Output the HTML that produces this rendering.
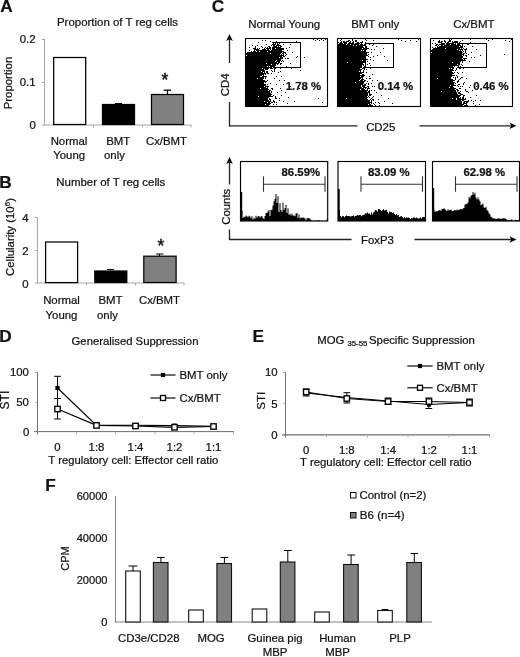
<!DOCTYPE html>
<html><head><meta charset="utf-8"><title>Figure</title>
<style>
html,body{margin:0;padding:0;background:#fff;}
svg{display:block;font-family:'Liberation Sans', sans-serif;fill:#111;}
text{stroke:#111;stroke-width:0.22px;}
</style></head><body>
<svg width="520" height="657" viewBox="0 0 520 657">
<rect x="0" y="0" width="520" height="657" fill="#fff"/>
<text x="0.3" y="12.3" font-size="17.2" text-anchor="start" font-weight="bold" >A</text>
<text x="117.5" y="25.5" font-size="11.45" text-anchor="middle" font-weight="normal" >Proportion of T reg cells</text>
<line x1="44.5" y1="39" x2="44.5" y2="125.5" stroke="#a8a8a8" stroke-width="1"/>
<line x1="42" y1="125" x2="191.5" y2="125" stroke="#a8a8a8" stroke-width="1"/>
<line x1="42" y1="39.5" x2="44.5" y2="39.5" stroke="#a8a8a8" stroke-width="1"/>
<line x1="42" y1="82.5" x2="44.5" y2="82.5" stroke="#a8a8a8" stroke-width="1"/>
<line x1="93.5" y1="125" x2="93.5" y2="127.5" stroke="#a8a8a8" stroke-width="1"/>
<line x1="142.5" y1="125" x2="142.5" y2="127.5" stroke="#a8a8a8" stroke-width="1"/>
<line x1="191" y1="125" x2="191" y2="127.5" stroke="#a8a8a8" stroke-width="1"/>
<text x="35.6" y="42.6" font-size="11.4" text-anchor="end" font-weight="normal" >0.2</text>
<text x="35.6" y="85.6" font-size="11.4" text-anchor="end" font-weight="normal" >0.1</text>
<text x="35.9" y="128.5" font-size="11.4" text-anchor="end" font-weight="normal" >0</text>
<text transform="translate(12 83) rotate(-90)" font-size="11.4" text-anchor="middle">Proportion</text>
<rect x="53.7" y="57.5" width="32" height="67" fill="#fff" stroke="#000" stroke-width="1.25"/>
<rect x="102.5" y="104.5" width="32" height="20" fill="#000" stroke="#000" stroke-width="1.25"/>
<line x1="118.5" y1="103.5" x2="118.5" y2="104.5" stroke="#000" stroke-width="1"/>
<line x1="115" y1="103.5" x2="122" y2="103.5" stroke="#000" stroke-width="1"/>
<rect x="151.5" y="94.5" width="32" height="30" fill="#808080" stroke="#000" stroke-width="1.25"/>
<line x1="167.5" y1="90.2" x2="167.5" y2="94.5" stroke="#000" stroke-width="1.2"/>
<line x1="163.7" y1="90.2" x2="171" y2="90.2" stroke="#000" stroke-width="1.3"/>
<text x="165" y="86" font-size="17.5" text-anchor="middle" font-weight="normal" style="stroke-width:0.5px">*</text>
<text x="69" y="145" font-size="11.4" text-anchor="middle" font-weight="normal" >Normal</text>
<text x="69.2" y="159" font-size="11.4" text-anchor="middle" font-weight="normal" >Young</text>
<text x="118.2" y="145" font-size="11.4" text-anchor="middle" font-weight="normal" >BMT</text>
<text x="104" y="159" font-size="11.4" text-anchor="start" font-weight="normal" >only</text>
<text x="166.5" y="145" font-size="11.4" text-anchor="middle" font-weight="normal" >Cx/BMT</text>
<text x="-0.8" y="187.9" font-size="17.2" text-anchor="start" font-weight="bold" >B</text>
<text x="110.8" y="186" font-size="11.45" text-anchor="middle" font-weight="normal" >Number of T reg cells</text>
<line x1="37.5" y1="217" x2="37.5" y2="283.5" stroke="#a8a8a8" stroke-width="1"/>
<line x1="35" y1="283" x2="184.5" y2="283" stroke="#a8a8a8" stroke-width="1"/>
<line x1="35" y1="217.5" x2="37.5" y2="217.5" stroke="#a8a8a8" stroke-width="1"/>
<line x1="35" y1="250.5" x2="37.5" y2="250.5" stroke="#a8a8a8" stroke-width="1"/>
<line x1="86.5" y1="283" x2="86.5" y2="285.5" stroke="#a8a8a8" stroke-width="1"/>
<line x1="135.5" y1="283" x2="135.5" y2="285.5" stroke="#a8a8a8" stroke-width="1"/>
<line x1="184" y1="283" x2="184" y2="285.5" stroke="#a8a8a8" stroke-width="1"/>
<text x="28.6" y="221.7" font-size="11.4" text-anchor="end" font-weight="normal" >4</text>
<text x="28.6" y="254.7" font-size="11.4" text-anchor="end" font-weight="normal" >2</text>
<text x="28.6" y="287.5" font-size="11.4" text-anchor="end" font-weight="normal" >0</text>
<text transform="translate(14 237) rotate(-90)" font-size="11.4" text-anchor="middle">Cellularity (10<tspan font-size="8" dy="-4.5">6</tspan><tspan dy="4.5">)</tspan></text>
<rect x="45.6" y="242" width="32" height="40.6" fill="#fff" stroke="#000" stroke-width="1.25"/>
<rect x="94.8" y="271" width="32" height="11.5" fill="#000" stroke="#000" stroke-width="1.25"/>
<line x1="110.5" y1="269.5" x2="110.5" y2="270.5" stroke="#000" stroke-width="1"/>
<line x1="107" y1="269.5" x2="114" y2="269.5" stroke="#000" stroke-width="1"/>
<rect x="143.8" y="256.2" width="32.3" height="26.3" fill="#808080" stroke="#000" stroke-width="1.25"/>
<line x1="159.5" y1="254" x2="159.5" y2="256" stroke="#000" stroke-width="1"/>
<line x1="156" y1="254" x2="163.5" y2="254" stroke="#000" stroke-width="1"/>
<text x="161" y="252.3" font-size="17.5" text-anchor="middle" font-weight="normal" style="stroke-width:0.5px">*</text>
<text x="61.5" y="304" font-size="11.4" text-anchor="middle" font-weight="normal" >Normal</text>
<text x="61.5" y="318.5" font-size="11.4" text-anchor="middle" font-weight="normal" >Young</text>
<text x="110.5" y="304" font-size="11.4" text-anchor="middle" font-weight="normal" >BMT</text>
<text x="97" y="318.5" font-size="11.4" text-anchor="start" font-weight="normal" >only</text>
<text x="159.5" y="304" font-size="11.4" text-anchor="middle" font-weight="normal" >Cx/BMT</text>
<text x="211.8" y="12.4" font-size="17.2" text-anchor="start" font-weight="bold" >C</text>
<text x="284.3" y="28.3" font-size="11.45" text-anchor="middle" font-weight="normal" >Normal Young</text>
<text x="375.2" y="28.3" font-size="11.45" text-anchor="middle" font-weight="normal" >BMT only</text>
<text x="473.8" y="28.3" font-size="11.45" text-anchor="middle" font-weight="normal" >Cx/BMT</text>
<path d="M229.5 34 L226.2 41 L229.5 39.2 L232.8 41 Z" fill="#000"/>
<line x1="229.5" y1="38" x2="229.5" y2="63" stroke="#222" stroke-width="1.3"/>
<text transform="translate(229 84.9) rotate(-90)" font-size="11.4" text-anchor="middle">CD4</text>
<line x1="229.5" y1="102" x2="229.5" y2="126.4" stroke="#222" stroke-width="1.3"/>
<line x1="229" y1="125.8" x2="357.5" y2="125.8" stroke="#222" stroke-width="1.3"/>
<text x="380.7" y="130.6" font-size="11.4" text-anchor="middle" font-weight="normal" >CD25</text>
<line x1="419.5" y1="125.8" x2="512" y2="125.8" stroke="#222" stroke-width="1.3"/>
<path d="M516.5 125.8 L509.5 122.5 L511.3 125.8 L509.5 129.1 Z" fill="#000"/>
<rect x="245" y="38" width="83" height="69" fill="#fff"/>
<path d="M265 38.5h1M313 39.5h1M317 39.5h1M321 39.5h1M325 39.5h1M262 40.5h1M265 40.5h1M315 40.5h1M319 40.5h1M323 40.5h1M270 41.5h1M276 41.5h1M296 41.5h1M258 42.5h1M272 42.5h1M280 42.5h1M275 43.5h1M277 43.5h1M279 43.5h1M266 44.5h1M272 44.5h1M274 44.5h2M277 44.5h2M283 44.5h1M290 44.5h1M252 45.5h1M257 45.5h1M271 45.5h1M273 45.5h2M276 45.5h5M255 46.5h1M261 46.5h1M268 46.5h2M274 46.5h3M278 46.5h1M280 46.5h2M249 47.5h1M255 47.5h1M262 47.5h1M265 47.5h1M267 47.5h1M269 47.5h2M272 47.5h9M289 47.5h1M253 48.5h3M257 48.5h1M259 48.5h1M264 48.5h1M266 48.5h5M272 48.5h3M276 48.5h8M286 48.5h1M254 49.5h5M262 49.5h4M267 49.5h2M270 49.5h1M272 49.5h12M245 50.5h1M249 50.5h1M254 50.5h1M256 50.5h14M271 50.5h11M287 50.5h1M251 51.5h1M253 51.5h3M257 51.5h2M260 51.5h7M268 51.5h16M245 52.5h1M247 52.5h35M283 52.5h3M292 52.5h1M246 53.5h24M271 53.5h10M282 53.5h2M285 53.5h1M245 54.5h35M281 54.5h1M283 54.5h1M286 54.5h1M245 55.5h1M247 55.5h37M285 55.5h1M245 56.5h37M283 56.5h2M297 56.5h1M245 57.5h34M280 57.5h3M296 57.5h1M304 57.5h1M245 58.5h38M285 58.5h1M287 58.5h2M245 59.5h36M245 60.5h31M277 60.5h4M282 60.5h1M245 61.5h30M276 61.5h4M281 61.5h1M283 61.5h1M245 62.5h32M278 62.5h2M245 63.5h21M267 63.5h12M280 63.5h2M290 63.5h1M245 64.5h26M272 64.5h4M277 64.5h1M280 64.5h1M245 65.5h31M245 66.5h22M268 66.5h1M270 66.5h5M286 66.5h1M245 67.5h27M245 68.5h17M263 68.5h6M270 68.5h3M274 68.5h2M280 68.5h1M291 68.5h1M245 69.5h19M265 69.5h3M274 69.5h1M245 70.5h20M271 70.5h1M274 70.5h1M300 70.5h1M245 71.5h16M262 71.5h3M266 71.5h2M272 71.5h1M274 71.5h1M280 71.5h1M245 72.5h18M264 72.5h1M266 72.5h2M278 72.5h1M245 73.5h21M267 73.5h2M271 73.5h1M245 74.5h19M265 74.5h1M245 75.5h17M263 75.5h1M245 76.5h15M262 76.5h5M276 76.5h1M281 76.5h1M245 77.5h19M265 77.5h1M245 78.5h12M258 78.5h6M265 78.5h1M274 78.5h1M245 79.5h18M245 80.5h20M267 80.5h1M279 80.5h1M284 80.5h1M245 81.5h22M245 82.5h19M265 82.5h1M245 83.5h19M270 83.5h1M245 84.5h21M267 84.5h1M276 84.5h1M283 84.5h1M245 85.5h21M245 86.5h19M265 86.5h4M290 86.5h1M245 87.5h21M267 87.5h1M245 88.5h15M261 88.5h7M271 88.5h2M280 88.5h1M299 88.5h1M245 89.5h24M272 89.5h1M245 90.5h23M269 90.5h2M281 90.5h1M245 91.5h25M271 91.5h1M245 92.5h25M271 92.5h1M277 92.5h1M285 92.5h1M245 93.5h26M245 94.5h27M245 95.5h26M273 95.5h1M281 95.5h1M245 96.5h13M259 96.5h14M275 96.5h1M245 97.5h24M275 97.5h1M288 97.5h1M245 98.5h23M269 98.5h1M275 98.5h2M279 98.5h1M318 98.5h1M245 99.5h23M269 99.5h2M245 100.5h24M270 100.5h1M273 100.5h1M279 100.5h1M245 101.5h19M265 101.5h6M273 101.5h2M283 101.5h1M294 101.5h1M245 102.5h22M268 102.5h2M271 102.5h2M274 102.5h1M276 102.5h1M322 102.5h1M245 103.5h26M287 103.5h1M245 104.5h20M266 104.5h4M273 104.5h1M276 104.5h1M245 105.5h24M245 106.5h26" stroke="#000" stroke-width="1" fill="none" shape-rendering="crispEdges"/>
<rect x="245.5" y="38.5" width="82" height="68" fill="none" stroke="#000" stroke-width="1.1"/>
<rect x="273.5" y="42.5" width="27.0" height="25.0" fill="none" stroke="#000" stroke-width="1"/>
<text x="303.5" y="90" font-size="11.4" text-anchor="middle" font-weight="bold" >1.78 %</text>
<rect x="337" y="38" width="84" height="69" fill="#fff"/>
<path d="M344 38.5h2M356 38.5h1M368 38.5h1M341 39.5h1M352 39.5h1M365 39.5h1M398 39.5h1M418 39.5h1M340 40.5h1M348 40.5h2M352 40.5h1M355 40.5h2M366 40.5h1M373 40.5h1M401 40.5h1M410 40.5h1M341 41.5h1M343 41.5h2M346 41.5h3M350 41.5h1M353 41.5h1M355 41.5h2M362 41.5h1M405 41.5h1M416 41.5h1M338 42.5h1M340 42.5h2M343 42.5h4M349 42.5h2M352 42.5h2M357 42.5h2M360 42.5h3M365 42.5h1M337 43.5h1M339 43.5h4M344 43.5h3M348 43.5h6M355 43.5h5M361 43.5h1M337 44.5h9M347 44.5h3M351 44.5h8M360 44.5h3M364 44.5h1M369 44.5h1M373 44.5h1M337 45.5h16M354 45.5h2M357 45.5h8M372 45.5h1M337 46.5h26M365 46.5h2M376 46.5h1M337 47.5h27M366 47.5h1M337 48.5h25M363 48.5h2M366 48.5h3M383 48.5h1M337 49.5h28M366 49.5h1M371 49.5h1M374 49.5h1M337 50.5h24M362 50.5h1M364 50.5h1M337 51.5h29M337 52.5h32M371 52.5h1M380 52.5h1M337 53.5h30M337 54.5h30M368 54.5h1M337 55.5h31M377 55.5h1M337 56.5h28M368 56.5h1M373 56.5h1M384 56.5h1M337 57.5h29M370 57.5h1M337 58.5h29M337 59.5h31M370 59.5h1M337 60.5h25M363 60.5h3M373 60.5h1M387 60.5h1M337 61.5h29M367 61.5h1M337 62.5h10M348 62.5h17M337 63.5h26M365 63.5h1M369 63.5h1M337 64.5h27M367 64.5h1M337 65.5h25M363 65.5h1M370 65.5h1M337 66.5h25M364 66.5h1M337 67.5h25M363 67.5h2M337 68.5h23M362 68.5h3M370 68.5h1M337 69.5h25M364 69.5h1M366 69.5h1M337 70.5h24M363 70.5h1M337 71.5h22M360 71.5h1M363 71.5h1M337 72.5h27M366 72.5h1M337 73.5h25M337 74.5h23M362 74.5h2M372 74.5h1M337 75.5h28M337 76.5h23M361 76.5h3M369 76.5h1M337 77.5h26M337 78.5h24M362 78.5h1M366 78.5h1M369 78.5h2M337 79.5h23M361 79.5h3M337 80.5h22M360 80.5h3M364 80.5h2M372 80.5h1M377 80.5h1M337 81.5h28M367 81.5h1M337 82.5h18M356 82.5h8M337 83.5h27M366 83.5h1M368 83.5h1M371 83.5h1M337 84.5h26M364 84.5h2M368 84.5h1M337 85.5h24M362 85.5h4M337 86.5h24M362 86.5h3M367 86.5h2M372 86.5h1M374 86.5h1M337 87.5h25M363 87.5h4M368 87.5h1M337 88.5h27M365 88.5h1M367 88.5h3M380 88.5h1M337 89.5h23M361 89.5h4M367 89.5h1M337 90.5h31M369 90.5h1M371 90.5h1M374 90.5h1M337 91.5h30M368 91.5h2M337 92.5h33M376 92.5h1M337 93.5h31M369 93.5h1M337 94.5h31M369 94.5h3M337 95.5h31M369 95.5h2M381 95.5h1M337 96.5h30M368 96.5h1M373 96.5h1M337 97.5h31M369 97.5h1M372 97.5h1M337 98.5h9M347 98.5h20M371 98.5h1M388 98.5h1M337 99.5h31M370 99.5h1M372 99.5h2M378 99.5h1M337 100.5h33M371 100.5h1M373 100.5h1M337 101.5h33M371 101.5h1M384 101.5h1M337 102.5h35M375 102.5h1M378 102.5h1M337 103.5h33M371 103.5h1M373 103.5h1M379 103.5h1M392 103.5h1M337 104.5h31M369 104.5h2M374 104.5h1M337 105.5h36M375 105.5h1M379 105.5h1M337 106.5h33" stroke="#000" stroke-width="1" fill="none" shape-rendering="crispEdges"/>
<rect x="337.5" y="38.5" width="83" height="68" fill="none" stroke="#000" stroke-width="1.1"/>
<rect x="365.5" y="43.5" width="28.0" height="24.0" fill="none" stroke="#000" stroke-width="1"/>
<text x="395.5" y="90" font-size="11.4" text-anchor="middle" font-weight="bold" >0.14 %</text>
<rect x="430" y="38" width="83" height="69" fill="#fff"/>
<path d="M438 38.5h1M442 38.5h1M449 39.5h1M451 39.5h1M470 39.5h1M486 39.5h1M492 39.5h1M511 39.5h1M433 40.5h1M439 40.5h1M444 40.5h1M449 40.5h2M462 40.5h1M488 40.5h1M505 40.5h1M438 41.5h2M441 41.5h2M444 41.5h2M448 41.5h3M452 41.5h1M454 41.5h4M460 41.5h1M509 41.5h1M438 42.5h4M445 42.5h1M447 42.5h2M452 42.5h6M459 42.5h1M470 42.5h1M432 43.5h1M435 43.5h1M441 43.5h4M446 43.5h8M455 43.5h1M457 43.5h4M464 43.5h1M436 44.5h2M439 44.5h6M446 44.5h4M451 44.5h5M457 44.5h3M462 44.5h1M467 44.5h2M435 45.5h2M438 45.5h1M441 45.5h2M444 45.5h17M462 45.5h1M437 46.5h1M439 46.5h20M460 46.5h3M464 46.5h1M472 46.5h1M432 47.5h1M435 47.5h1M437 47.5h26M430 48.5h1M433 48.5h12M446 48.5h14M461 48.5h1M463 48.5h1M466 48.5h1M432 49.5h25M458 49.5h5M464 49.5h3M476 49.5h1M431 50.5h28M460 50.5h1M462 50.5h1M465 50.5h1M430 51.5h32M463 51.5h1M465 51.5h1M432 52.5h31M465 52.5h1M471 52.5h1M430 53.5h32M463 53.5h2M466 53.5h1M431 54.5h27M459 54.5h5M468 54.5h1M504 54.5h1M430 55.5h32M463 55.5h1M465 55.5h2M480 55.5h1M430 56.5h33M466 56.5h1M430 57.5h33M471 57.5h1M474 57.5h1M430 58.5h32M463 58.5h4M430 59.5h33M464 59.5h1M430 60.5h36M430 61.5h31M462 61.5h1M469 61.5h1M430 62.5h22M453 62.5h7M462 62.5h1M430 63.5h30M430 64.5h27M458 64.5h2M461 64.5h1M430 65.5h28M462 65.5h1M430 66.5h23M454 66.5h1M460 66.5h1M430 67.5h24M457 67.5h2M430 68.5h19M450 68.5h1M452 68.5h2M456 68.5h1M459 68.5h2M463 68.5h1M430 69.5h23M456 69.5h1M430 70.5h24M455 70.5h1M430 71.5h22M430 72.5h23M454 72.5h1M457 72.5h1M462 72.5h1M430 73.5h24M458 73.5h1M430 74.5h22M430 75.5h25M456 75.5h1M430 76.5h22M457 76.5h1M430 77.5h21M453 77.5h1M455 77.5h1M457 77.5h1M461 77.5h2M430 78.5h7M438 78.5h13M455 78.5h1M460 78.5h1M466 78.5h1M430 79.5h23M455 79.5h1M459 79.5h1M430 80.5h25M458 80.5h1M430 81.5h23M457 81.5h2M430 82.5h25M457 82.5h1M464 82.5h1M430 83.5h24M455 83.5h1M463 83.5h1M430 84.5h24M458 84.5h2M463 84.5h1M430 85.5h20M451 85.5h5M457 85.5h1M470 85.5h1M430 86.5h23M458 86.5h1M460 86.5h1M462 86.5h1M476 86.5h1M430 87.5h19M450 87.5h4M469 87.5h1M430 88.5h26M459 88.5h2M430 89.5h25M456 89.5h2M465 89.5h1M430 90.5h26M457 90.5h2M465 90.5h1M472 90.5h1M430 91.5h11M442 91.5h14M457 91.5h1M460 91.5h1M466 91.5h2M430 92.5h27M458 92.5h2M468 92.5h1M430 93.5h27M458 93.5h3M430 94.5h28M460 94.5h3M430 95.5h31M463 95.5h2M476 95.5h1M430 96.5h30M463 96.5h1M430 97.5h29M460 97.5h1M462 97.5h2M470 97.5h1M430 98.5h22M453 98.5h3M457 98.5h4M462 98.5h2M465 98.5h1M430 99.5h26M457 99.5h9M430 100.5h31M462 100.5h2M468 100.5h1M471 100.5h1M475 100.5h1M480 100.5h1M430 101.5h32M464 101.5h5M473 101.5h1M430 102.5h32M463 102.5h2M466 102.5h2M430 103.5h32M463 103.5h4M473 103.5h1M430 104.5h34M466 104.5h1M479 104.5h1M430 105.5h33M464 105.5h4M475 105.5h1M430 106.5h35M467 106.5h1" stroke="#000" stroke-width="1" fill="none" shape-rendering="crispEdges"/>
<rect x="430.5" y="38.5" width="82" height="68" fill="none" stroke="#000" stroke-width="1.1"/>
<rect x="458.5" y="43.5" width="28.0" height="24.0" fill="none" stroke="#000" stroke-width="1"/>
<text x="491" y="90" font-size="11.4" text-anchor="middle" font-weight="bold" >0.46 %</text>
<path d="M229.5 157 L226.2 164 L229.5 162.2 L232.8 164 Z" fill="#000"/>
<line x1="229.5" y1="161" x2="229.5" y2="184.5" stroke="#222" stroke-width="1.3"/>
<text transform="translate(229.5 206.8) rotate(-90)" font-size="11.4" text-anchor="middle">Counts</text>
<line x1="229.5" y1="229.5" x2="229.5" y2="240" stroke="#222" stroke-width="1.3"/>
<line x1="229" y1="239.5" x2="351.5" y2="239.5" stroke="#222" stroke-width="1.3"/>
<text x="377.5" y="244" font-size="11.4" text-anchor="middle" font-weight="normal" >FoxP3</text>
<line x1="414.5" y1="239.5" x2="512" y2="239.5" stroke="#222" stroke-width="1.3"/>
<path d="M516.5 239.5 L509.5 236.2 L511.3 239.5 L509.5 242.8 Z" fill="#000"/>
<rect x="240.5" y="161.5" width="87.19999999999999" height="59.5" fill="#fff"/>
<path d="M240.5 221L240.50 192.0L241.50 192.0L241.50 210.8L242.50 210.8L242.50 218.1L243.50 218.1L243.50 216.8L244.50 216.8L244.50 217.1L245.50 217.1L245.50 215.4L246.50 215.4L246.50 216.2L247.50 216.2L247.50 217.2L248.50 217.2L248.50 215.7L249.50 215.7L249.50 216.5L250.50 216.5L250.50 218.2L251.50 218.2L251.50 216.3L252.50 216.3L252.50 219.4L253.50 219.4L253.50 217.7L254.50 217.7L254.50 218.7L255.50 218.7L255.50 215.8L256.50 215.8L256.50 217.7L257.50 217.7L257.50 216.2L258.50 216.2L258.50 216.0L259.50 216.0L259.50 217.5L260.50 217.5L260.50 216.5L261.50 216.5L261.50 216.1L262.50 216.1L262.50 218.1L263.50 218.1L263.50 219.0L264.50 219.0L264.50 216.0L265.50 216.0L265.50 212.9L266.50 212.9L266.50 213.1L267.50 213.1L267.50 211.6L268.50 211.6L268.50 210.1L269.50 210.1L269.50 216.0L270.50 216.0L270.50 209.9L271.50 209.9L271.50 209.7L272.50 209.7L272.50 205.5L273.50 205.5L273.50 201.6L274.50 201.6L274.50 198.8L275.50 198.8L275.50 193.9L276.50 193.9L276.50 203.0L277.50 203.0L277.50 196.3L278.50 196.3L278.50 212.0L279.50 212.0L279.50 203.2L280.50 203.2L280.50 210.1L281.50 210.1L281.50 211.9L282.50 211.9L282.50 202.8L283.50 202.8L283.50 210.1L284.50 210.1L284.50 208.1L285.50 208.1L285.50 204.7L286.50 204.7L286.50 212.9L287.50 212.9L287.50 208.3L288.50 208.3L288.50 214.8L289.50 214.8L289.50 213.7L290.50 213.7L290.50 215.4L291.50 215.4L291.50 213.7L292.50 213.7L292.50 215.6L293.50 215.6L293.50 215.5L294.50 215.5L294.50 216.3L295.50 216.3L295.50 213.6L296.50 213.6L296.50 213.1L297.50 213.1L297.50 217.7L298.50 217.7L298.50 214.4L299.50 214.4L299.50 218.4L300.50 218.4L300.50 217.3L301.50 217.3L301.50 218.1L302.50 218.1L302.50 217.4L303.50 217.4L303.50 217.7L304.50 217.7L304.50 218.5L305.50 218.5L305.50 220.6L306.50 220.6L306.50 218.2L307.50 218.2L307.50 218.2L308.50 218.2L308.50 217.9L309.50 217.9L309.50 218.7L310.50 218.7L310.50 220.0L311.50 220.0L311.50 220.6L312.50 220.6L312.50 220.8L313.50 220.8L313.50 220.8L314.50 220.8L314.50 220.9L315.50 220.9L315.50 220.3L316.50 220.3L316.50 220.9L317.50 220.9L317.50 220.1L318.50 220.1L318.50 220.2L319.50 220.2L319.50 221.0L320.50 221.0L320.50 220.8L321.50 220.8L321.50 220.8L322.50 220.8L322.50 220.9L323.50 220.9L323.50 221.0L324.50 221.0L324.50 221.0L325.50 221.0L325.50 220.8L326.50 220.8L326.50 219.3L327.50 219.3L327.5 221Z" fill="#000"/>
<rect x="240.5" y="192" width="1.7" height="29" fill="#000"/>
<rect x="240.5" y="161.5" width="87.19999999999999" height="59.5" fill="none" stroke="#000" stroke-width="1.15"/>
<line x1="263.5" y1="184.3" x2="325" y2="184.3" stroke="#333" stroke-width="1.1"/>
<line x1="263.5" y1="176.3" x2="263.5" y2="191.8" stroke="#333" stroke-width="1.1"/>
<line x1="325" y1="176.3" x2="325" y2="191.8" stroke="#333" stroke-width="1.1"/>
<text x="300.8" y="175.8" font-size="11.4" text-anchor="middle" font-weight="bold" >86.59%</text>
<rect x="338" y="161.5" width="87.5" height="59.5" fill="#fff"/>
<path d="M338 221L338.00 189.0L339.00 189.0L339.00 209.8L340.00 209.8L340.00 216.0L341.00 216.0L341.00 217.2L342.00 217.2L342.00 216.1L343.00 216.1L343.00 216.2L344.00 216.2L344.00 217.2L345.00 217.2L345.00 216.1L346.00 216.1L346.00 215.5L347.00 215.5L347.00 216.0L348.00 216.0L348.00 215.9L349.00 215.9L349.00 216.3L350.00 216.3L350.00 216.5L351.00 216.5L351.00 216.3L352.00 216.3L352.00 216.1L353.00 216.1L353.00 215.6L354.00 215.6L354.00 216.6L355.00 216.6L355.00 215.9L356.00 215.9L356.00 215.8L357.00 215.8L357.00 215.0L358.00 215.0L358.00 215.6L359.00 215.6L359.00 215.1L360.00 215.1L360.00 215.0L361.00 215.0L361.00 216.2L362.00 216.2L362.00 215.2L363.00 215.2L363.00 215.1L364.00 215.1L364.00 214.4L365.00 214.4L365.00 213.3L366.00 213.3L366.00 213.4L367.00 213.4L367.00 212.6L368.00 212.6L368.00 213.7L369.00 213.7L369.00 213.4L370.00 213.4L370.00 214.7L371.00 214.7L371.00 212.4L372.00 212.4L372.00 214.5L373.00 214.5L373.00 212.4L374.00 212.4L374.00 211.5L375.00 211.5L375.00 210.0L376.00 210.0L376.00 210.6L377.00 210.6L377.00 211.6L378.00 211.6L378.00 209.0L379.00 209.0L379.00 209.2L380.00 209.2L380.00 209.9L381.00 209.9L381.00 210.9L382.00 210.9L382.00 210.2L383.00 210.2L383.00 209.3L384.00 209.3L384.00 210.6L385.00 210.6L385.00 210.3L386.00 210.3L386.00 209.7L387.00 209.7L387.00 211.8L388.00 211.8L388.00 213.4L389.00 213.4L389.00 211.6L390.00 211.6L390.00 212.3L391.00 212.3L391.00 212.1L392.00 212.1L392.00 213.1L393.00 213.1L393.00 212.4L394.00 212.4L394.00 214.1L395.00 214.1L395.00 215.0L396.00 215.0L396.00 214.0L397.00 214.0L397.00 215.6L398.00 215.6L398.00 214.9L399.00 214.9L399.00 217.0L400.00 217.0L400.00 216.4L401.00 216.4L401.00 215.9L402.00 215.9L402.00 217.3L403.00 217.3L403.00 218.2L404.00 218.2L404.00 217.0L405.00 217.0L405.00 218.2L406.00 218.2L406.00 217.2L407.00 217.2L407.00 217.8L408.00 217.8L408.00 217.6L409.00 217.6L409.00 217.9L410.00 217.9L410.00 219.1L411.00 219.1L411.00 218.1L412.00 218.1L412.00 218.2L413.00 218.2L413.00 217.5L414.00 217.5L414.00 217.6L415.00 217.6L415.00 218.3L416.00 218.3L416.00 217.6L417.00 217.6L417.00 218.3L418.00 218.3L418.00 218.4L419.00 218.4L419.00 218.2L420.00 218.2L420.00 217.6L421.00 217.6L421.00 218.4L422.00 218.4L422.00 217.3L423.00 217.3L423.00 217.1L424.00 217.1L424.00 216.9L425.00 216.9L425.00 217.8L426.00 217.8L426.0 221Z" fill="#000"/>
<rect x="338" y="189" width="1.7" height="32" fill="#000"/>
<rect x="338" y="161.5" width="87.5" height="59.5" fill="none" stroke="#000" stroke-width="1.15"/>
<line x1="361" y1="184.3" x2="422.5" y2="184.3" stroke="#333" stroke-width="1.1"/>
<line x1="361" y1="176.3" x2="361" y2="191.8" stroke="#333" stroke-width="1.1"/>
<line x1="422.5" y1="176.3" x2="422.5" y2="191.8" stroke="#333" stroke-width="1.1"/>
<text x="388.8" y="176" font-size="11.4" text-anchor="middle" font-weight="bold" >83.09 %</text>
<rect x="432.5" y="161.5" width="87.0" height="59.5" fill="#fff"/>
<path d="M432.5 221L432.50 188.0L433.50 188.0L433.50 209.4L434.50 209.4L434.50 212.0L435.50 212.0L435.50 210.9L436.50 210.9L436.50 211.4L437.50 211.4L437.50 210.8L438.50 210.8L438.50 210.5L439.50 210.5L439.50 209.9L440.50 209.9L440.50 210.9L441.50 210.9L441.50 209.0L442.50 209.0L442.50 209.0L443.50 209.0L443.50 208.2L444.50 208.2L444.50 209.3L445.50 209.3L445.50 210.2L446.50 210.2L446.50 210.9L447.50 210.9L447.50 209.2L448.50 209.2L448.50 210.5L449.50 210.5L449.50 209.9L450.50 209.9L450.50 209.5L451.50 209.5L451.50 210.7L452.50 210.7L452.50 211.3L453.50 211.3L453.50 210.4L454.50 210.4L454.50 210.0L455.50 210.0L455.50 210.4L456.50 210.4L456.50 209.6L457.50 209.6L457.50 210.3L458.50 210.3L458.50 210.1L459.50 210.1L459.50 209.3L460.50 209.3L460.50 208.9L461.50 208.9L461.50 209.4L462.50 209.4L462.50 208.4L463.50 208.4L463.50 207.9L464.50 207.9L464.50 204.5L465.50 204.5L465.50 204.3L466.50 204.3L466.50 203.8L467.50 203.8L467.50 202.4L468.50 202.4L468.50 196.9L469.50 196.9L469.50 198.3L470.50 198.3L470.50 195.7L471.50 195.7L471.50 195.1L472.50 195.1L472.50 191.9L473.50 191.9L473.50 194.4L474.50 194.4L474.50 192.8L475.50 192.8L475.50 197.5L476.50 197.5L476.50 199.6L477.50 199.6L477.50 197.5L478.50 197.5L478.50 199.6L479.50 199.6L479.50 201.3L480.50 201.3L480.50 204.9L481.50 204.9L481.50 204.5L482.50 204.5L482.50 203.6L483.50 203.6L483.50 207.5L484.50 207.5L484.50 208.0L485.50 208.0L485.50 206.7L486.50 206.7L486.50 209.8L487.50 209.8L487.50 210.9L488.50 210.9L488.50 213.2L489.50 213.2L489.50 214.6L490.50 214.6L490.50 216.7L491.50 216.7L491.50 217.3L492.50 217.3L492.50 218.6L493.50 218.6L493.50 218.2L494.50 218.2L494.50 218.4L495.50 218.4L495.50 218.9L496.50 218.9L496.50 218.9L497.50 218.9L497.50 218.1L498.50 218.1L498.50 218.5L499.50 218.5L499.50 219.0L500.50 219.0L500.50 218.6L501.50 218.6L501.50 219.1L502.50 219.1L502.50 217.9L503.50 217.9L503.50 218.5L504.50 218.5L504.50 218.3L505.50 218.3L505.50 218.9L506.50 218.9L506.50 219.8L507.50 219.8L507.50 220.4L508.50 220.4L508.50 220.0L509.50 220.0L509.50 220.3L510.50 220.3L510.50 219.8L511.50 219.8L511.50 219.3L512.50 219.3L512.50 221.0L513.50 221.0L513.50 220.8L514.50 220.8L514.50 219.8L515.50 219.8L515.50 219.9L516.50 219.9L516.50 220.2L517.50 220.2L517.50 220.0L518.50 220.0L518.50 220.1L519.50 220.1L519.5 221Z" fill="#000"/>
<rect x="432.5" y="188" width="1.7" height="33" fill="#000"/>
<rect x="432.5" y="161.5" width="87.0" height="59.5" fill="none" stroke="#000" stroke-width="1.15"/>
<line x1="455.5" y1="184.3" x2="517" y2="184.3" stroke="#333" stroke-width="1.1"/>
<line x1="455.5" y1="176.3" x2="455.5" y2="191.8" stroke="#333" stroke-width="1.1"/>
<line x1="517" y1="176.3" x2="517" y2="191.8" stroke="#333" stroke-width="1.1"/>
<text x="484.3" y="176" font-size="11.4" text-anchor="middle" font-weight="bold" >62.98 %</text>
<text x="-0.8" y="342.3" font-size="17.2" text-anchor="start" font-weight="bold" >D</text>
<text x="135" y="344.5" font-size="11.3" text-anchor="middle" font-weight="normal" >Generalised Suppression</text>
<line x1="37.5" y1="372" x2="37.5" y2="434.5" stroke="#6e6e6e" stroke-width="1"/>
<line x1="34" y1="431.6" x2="234" y2="431.6" stroke="#6e6e6e" stroke-width="1"/>
<line x1="35" y1="372.5" x2="37.5" y2="372.5" stroke="#b5b5b5" stroke-width="1"/>
<line x1="35" y1="402.5" x2="37.5" y2="402.5" stroke="#b5b5b5" stroke-width="1"/>
<line x1="76.5" y1="432" x2="76.5" y2="434.5" stroke="#b5b5b5" stroke-width="1"/>
<line x1="115.5" y1="432" x2="115.5" y2="434.5" stroke="#b5b5b5" stroke-width="1"/>
<line x1="155" y1="432" x2="155" y2="434.5" stroke="#b5b5b5" stroke-width="1"/>
<line x1="194" y1="432" x2="194" y2="434.5" stroke="#b5b5b5" stroke-width="1"/>
<line x1="233.5" y1="432" x2="233.5" y2="434.5" stroke="#b5b5b5" stroke-width="1"/>
<text x="28.9" y="376.1" font-size="11.4" text-anchor="end" font-weight="normal" >100</text>
<text x="28.9" y="406.2" font-size="11.4" text-anchor="end" font-weight="normal" >50</text>
<text x="29.3" y="435.8" font-size="11.4" text-anchor="end" font-weight="normal" >0</text>
<text transform="translate(8.8 400.1) rotate(-90)" font-size="12" text-anchor="middle">STI</text>
<line x1="57.5" y1="376.3" x2="57.5" y2="398.5" stroke="#000" stroke-width="1"/>
<line x1="54.1" y1="376.3" x2="60.9" y2="376.3" stroke="#000" stroke-width="1"/>
<line x1="54.1" y1="398.5" x2="60.9" y2="398.5" stroke="#000" stroke-width="1"/>
<line x1="57.5" y1="398.5" x2="57.5" y2="419" stroke="#000" stroke-width="1"/>
<line x1="54.1" y1="398.5" x2="60.9" y2="398.5" stroke="#000" stroke-width="1"/>
<line x1="54.1" y1="419" x2="60.9" y2="419" stroke="#000" stroke-width="1"/>
<polyline points="57.5,388 96.5,425.3 135.5,425.2 174.5,425.6 213.5,426.2" fill="none" stroke="#000" stroke-width="1.15"/>
<polyline points="57.5,409 96.5,425.4 135.5,426 174.5,427.3 213.5,426.5" fill="none" stroke="#000" stroke-width="1.15"/>
<rect x="55.9" y="386.4" width="3.2" height="3.2" fill="#000" stroke="#000" stroke-width="1"/>
<rect x="94.9" y="423.7" width="3.2" height="3.2" fill="#000" stroke="#000" stroke-width="1"/>
<rect x="133.9" y="423.59999999999997" width="3.2" height="3.2" fill="#000" stroke="#000" stroke-width="1"/>
<rect x="172.9" y="424.0" width="3.2" height="3.2" fill="#000" stroke="#000" stroke-width="1"/>
<rect x="211.9" y="424.59999999999997" width="3.2" height="3.2" fill="#000" stroke="#000" stroke-width="1"/>
<rect x="54.8" y="406.3" width="5.4" height="5.4" fill="#fff" stroke="#000" stroke-width="1.35"/>
<rect x="93.8" y="422.7" width="5.4" height="5.4" fill="#fff" stroke="#000" stroke-width="1.35"/>
<rect x="132.8" y="423.3" width="5.4" height="5.4" fill="#fff" stroke="#000" stroke-width="1.35"/>
<rect x="171.8" y="424.6" width="5.4" height="5.4" fill="#fff" stroke="#000" stroke-width="1.35"/>
<rect x="210.8" y="423.8" width="5.4" height="5.4" fill="#fff" stroke="#000" stroke-width="1.35"/>
<text x="57.5" y="451" font-size="11.4" text-anchor="middle" font-weight="normal" >0</text>
<text x="96.5" y="451" font-size="11.4" text-anchor="middle" font-weight="normal" >1:8</text>
<text x="135.5" y="451" font-size="11.4" text-anchor="middle" font-weight="normal" >1:4</text>
<text x="174.5" y="451" font-size="11.4" text-anchor="middle" font-weight="normal" >1:2</text>
<text x="213.5" y="451" font-size="11.4" text-anchor="middle" font-weight="normal" >1:1</text>
<text x="133.3" y="464" font-size="11.28" text-anchor="middle" font-weight="normal" >T regulatory cell: Effector cell ratio</text>
<line x1="150.5" y1="375" x2="175.5" y2="375" stroke="#000" stroke-width="1.15"/>
<rect x="161.4" y="373.4" width="3.2" height="3.2" fill="#000" stroke="#000" stroke-width="1"/>
<line x1="150.5" y1="398" x2="175.5" y2="398" stroke="#000" stroke-width="1.15"/>
<rect x="160.5" y="395.5" width="5" height="5" fill="#fff" stroke="#000" stroke-width="1.3"/>
<text x="179.5" y="379" font-size="11.4" text-anchor="start" font-weight="normal" >BMT only</text>
<text x="179.5" y="402" font-size="11.4" text-anchor="start" font-weight="normal" >Cx/BMT</text>
<text x="252.5" y="341.9" font-size="17.2" text-anchor="start" font-weight="bold" >E</text>
<text x="317.2" y="343.8" font-size="11.35">MOG <tspan font-size="7.8" dy="2.6">35-55</tspan><tspan dy="-2.6" dx="1.6">Specific Suppression</tspan></text>
<line x1="285.5" y1="372" x2="285.5" y2="437.5" stroke="#6e6e6e" stroke-width="1"/>
<line x1="282" y1="434.9" x2="490" y2="434.9" stroke="#6e6e6e" stroke-width="1.2"/>
<line x1="283" y1="372.5" x2="285.5" y2="372.5" stroke="#b5b5b5" stroke-width="1"/>
<line x1="283" y1="403.5" x2="285.5" y2="403.5" stroke="#b5b5b5" stroke-width="1"/>
<line x1="326.5" y1="435" x2="326.5" y2="437.5" stroke="#b5b5b5" stroke-width="1"/>
<line x1="367.5" y1="435" x2="367.5" y2="437.5" stroke="#b5b5b5" stroke-width="1"/>
<line x1="408" y1="435" x2="408" y2="437.5" stroke="#b5b5b5" stroke-width="1"/>
<line x1="449" y1="435" x2="449" y2="437.5" stroke="#b5b5b5" stroke-width="1"/>
<line x1="489.5" y1="435" x2="489.5" y2="437.5" stroke="#b5b5b5" stroke-width="1"/>
<text x="277.7" y="376.1" font-size="11.4" text-anchor="end" font-weight="normal" >10</text>
<text x="277.7" y="407.9" font-size="11.4" text-anchor="end" font-weight="normal" >5</text>
<text x="277.7" y="438.9" font-size="11.4" text-anchor="end" font-weight="normal" >0</text>
<text transform="translate(264.6 400.7) rotate(-90)" font-size="11.6" text-anchor="middle">STI</text>
<line x1="306.2" y1="389" x2="306.2" y2="396" stroke="#000" stroke-width="1"/>
<line x1="302.8" y1="389" x2="309.59999999999997" y2="389" stroke="#000" stroke-width="1"/>
<line x1="302.8" y1="396" x2="309.59999999999997" y2="396" stroke="#000" stroke-width="1"/>
<line x1="346.8" y1="392.7" x2="346.8" y2="403" stroke="#000" stroke-width="1"/>
<line x1="343.40000000000003" y1="392.7" x2="350.2" y2="392.7" stroke="#000" stroke-width="1"/>
<line x1="343.40000000000003" y1="403" x2="350.2" y2="403" stroke="#000" stroke-width="1"/>
<line x1="388.1" y1="398" x2="388.1" y2="404.5" stroke="#000" stroke-width="1"/>
<line x1="384.70000000000005" y1="398" x2="391.5" y2="398" stroke="#000" stroke-width="1"/>
<line x1="384.70000000000005" y1="404.5" x2="391.5" y2="404.5" stroke="#000" stroke-width="1"/>
<line x1="428.8" y1="398" x2="428.8" y2="408.5" stroke="#000" stroke-width="1"/>
<line x1="425.40000000000003" y1="398" x2="432.2" y2="398" stroke="#000" stroke-width="1"/>
<line x1="425.40000000000003" y1="408.5" x2="432.2" y2="408.5" stroke="#000" stroke-width="1"/>
<line x1="469.5" y1="399" x2="469.5" y2="406" stroke="#000" stroke-width="1"/>
<line x1="466.1" y1="399" x2="472.9" y2="399" stroke="#000" stroke-width="1"/>
<line x1="466.1" y1="406" x2="472.9" y2="406" stroke="#000" stroke-width="1"/>
<polyline points="306.2,393 346.8,397.5 388.1,401 429,404.5 469.5,402.5" fill="none" stroke="#000" stroke-width="1.15"/>
<polyline points="306.2,392 346.8,398.5 388.1,401.5 429,401.5 469.5,402.5" fill="none" stroke="#000" stroke-width="1.15"/>
<rect x="304.59999999999997" y="391.4" width="3.2" height="3.2" fill="#000" stroke="#000" stroke-width="1"/>
<rect x="345.2" y="395.9" width="3.2" height="3.2" fill="#000" stroke="#000" stroke-width="1"/>
<rect x="386.5" y="399.4" width="3.2" height="3.2" fill="#000" stroke="#000" stroke-width="1"/>
<rect x="427.4" y="402.9" width="3.2" height="3.2" fill="#000" stroke="#000" stroke-width="1"/>
<rect x="467.9" y="400.9" width="3.2" height="3.2" fill="#000" stroke="#000" stroke-width="1"/>
<rect x="303.5" y="389.3" width="5.4" height="5.4" fill="#fff" stroke="#000" stroke-width="1.35"/>
<rect x="344.1" y="395.8" width="5.4" height="5.4" fill="#fff" stroke="#000" stroke-width="1.35"/>
<rect x="385.40000000000003" y="398.8" width="5.4" height="5.4" fill="#fff" stroke="#000" stroke-width="1.35"/>
<rect x="426.3" y="398.8" width="5.4" height="5.4" fill="#fff" stroke="#000" stroke-width="1.35"/>
<rect x="466.8" y="399.8" width="5.4" height="5.4" fill="#fff" stroke="#000" stroke-width="1.35"/>
<text x="306.2" y="454" font-size="11.4" text-anchor="middle" font-weight="normal" >0</text>
<text x="346.8" y="454" font-size="11.4" text-anchor="middle" font-weight="normal" >1:8</text>
<text x="388.1" y="454" font-size="11.4" text-anchor="middle" font-weight="normal" >1:4</text>
<text x="429" y="454" font-size="11.4" text-anchor="middle" font-weight="normal" >1:2</text>
<text x="469.5" y="454" font-size="11.4" text-anchor="middle" font-weight="normal" >1:1</text>
<text x="385.8" y="466.3" font-size="11.38" text-anchor="middle" font-weight="normal" >T regulatory cell: Effector cell ratio</text>
<line x1="407.3" y1="366" x2="432.7" y2="366" stroke="#000" stroke-width="1.15"/>
<rect x="418.4" y="364.4" width="3.2" height="3.2" fill="#000" stroke="#000" stroke-width="1"/>
<line x1="407.3" y1="387.8" x2="432.7" y2="387.8" stroke="#000" stroke-width="1.15"/>
<rect x="417.5" y="385.3" width="5" height="5" fill="#fff" stroke="#000" stroke-width="1.3"/>
<text x="436.5" y="370" font-size="11.4" text-anchor="start" font-weight="normal" >BMT only</text>
<text x="436.5" y="391.5" font-size="11.4" text-anchor="start" font-weight="normal" >Cx/BMT</text>
<text x="45.3" y="490.8" font-size="17.2" text-anchor="start" font-weight="bold" >F</text>
<line x1="115.5" y1="496" x2="115.5" y2="622.5" stroke="#858585" stroke-width="1"/>
<line x1="115" y1="622" x2="432" y2="622" stroke="#858585" stroke-width="1"/>
<text x="107.5" y="500.0" font-size="11.1" text-anchor="end" font-weight="normal" >60000</text>
<text x="107.5" y="542.0" font-size="11.1" text-anchor="end" font-weight="normal" >40000</text>
<text x="107.5" y="583.5" font-size="11.1" text-anchor="end" font-weight="normal" >20000</text>
<text x="107.5" y="625.5" font-size="11.1" text-anchor="end" font-weight="normal" >0</text>
<text transform="translate(68.8 558.5) rotate(-90)" font-size="11" text-anchor="middle">CPM</text>
<rect x="125.7" y="571" width="14.6" height="51" fill="#fff" stroke="#111" stroke-width="1.1"/>
<line x1="133.0" y1="566" x2="133.0" y2="571" stroke="#000" stroke-width="1"/>
<line x1="128.6" y1="566" x2="137.4" y2="566" stroke="#000" stroke-width="1"/>
<rect x="153.4" y="562.5" width="14.6" height="59.5" fill="#808080" stroke="#111" stroke-width="1.1"/>
<line x1="160.9" y1="557.5" x2="160.9" y2="562.5" stroke="#000" stroke-width="1"/>
<line x1="157.1" y1="557.5" x2="164.70000000000002" y2="557.5" stroke="#000" stroke-width="1"/>
<rect x="188.7" y="610" width="14.6" height="12" fill="#fff" stroke="#111" stroke-width="1.1"/>
<rect x="216.9" y="563.5" width="14.6" height="58.5" fill="#808080" stroke="#111" stroke-width="1.1"/>
<line x1="224.4" y1="557.5" x2="224.4" y2="563.5" stroke="#000" stroke-width="1"/>
<line x1="220.6" y1="557.5" x2="228.20000000000002" y2="557.5" stroke="#000" stroke-width="1"/>
<rect x="252.2" y="609" width="14.6" height="13" fill="#fff" stroke="#111" stroke-width="1.1"/>
<rect x="280.3" y="562" width="14.6" height="60" fill="#808080" stroke="#111" stroke-width="1.1"/>
<line x1="287.8" y1="550.5" x2="287.8" y2="562" stroke="#000" stroke-width="1"/>
<line x1="284.0" y1="550.5" x2="291.6" y2="550.5" stroke="#000" stroke-width="1"/>
<rect x="314.7" y="612" width="14.6" height="10" fill="#fff" stroke="#111" stroke-width="1.1"/>
<rect x="343.6" y="564.5" width="14.6" height="57.5" fill="#808080" stroke="#111" stroke-width="1.1"/>
<line x1="351.1" y1="555" x2="351.1" y2="564.5" stroke="#000" stroke-width="1"/>
<line x1="347.3" y1="555" x2="354.90000000000003" y2="555" stroke="#000" stroke-width="1"/>
<rect x="377.7" y="610.5" width="14.6" height="11.5" fill="#fff" stroke="#111" stroke-width="1.1"/>
<line x1="385.0" y1="609.5" x2="385.0" y2="610.5" stroke="#000" stroke-width="1"/>
<line x1="381.7" y1="609.5" x2="388.3" y2="609.5" stroke="#000" stroke-width="1"/>
<rect x="406.8" y="562.5" width="14.6" height="59.5" fill="#808080" stroke="#111" stroke-width="1.1"/>
<line x1="414.3" y1="553.5" x2="414.3" y2="562.5" stroke="#000" stroke-width="1"/>
<line x1="410.5" y1="553.5" x2="418.1" y2="553.5" stroke="#000" stroke-width="1"/>
<text x="148.8" y="642" font-size="11.4" text-anchor="middle" font-weight="normal" >CD3e/CD28</text>
<text x="211" y="642" font-size="11.4" text-anchor="middle" font-weight="normal" >MOG</text>
<text x="275" y="642" font-size="11.4" text-anchor="middle" font-weight="normal" >Guinea pig</text>
<text x="275" y="655.7" font-size="11.4" text-anchor="middle" font-weight="normal" >MBP</text>
<text x="337.5" y="642" font-size="11.4" text-anchor="middle" font-weight="normal" >Human</text>
<text x="337.5" y="655.7" font-size="11.4" text-anchor="middle" font-weight="normal" >MBP</text>
<text x="400" y="642" font-size="11.4" text-anchor="middle" font-weight="normal" >PLP</text>
<rect x="350.5" y="492.5" width="5.5" height="5.5" fill="#fff" stroke="#111" stroke-width="1"/>
<rect x="350.5" y="512.5" width="5.5" height="5.5" fill="#808080" stroke="#111" stroke-width="1"/>
<text x="359.5" y="499" font-size="11.4" text-anchor="start" font-weight="normal" >Control (n=2)</text>
<text x="359.8" y="519" font-size="11.6" text-anchor="start" font-weight="normal" >B6 (n=4)</text>
</svg>
</body></html>
